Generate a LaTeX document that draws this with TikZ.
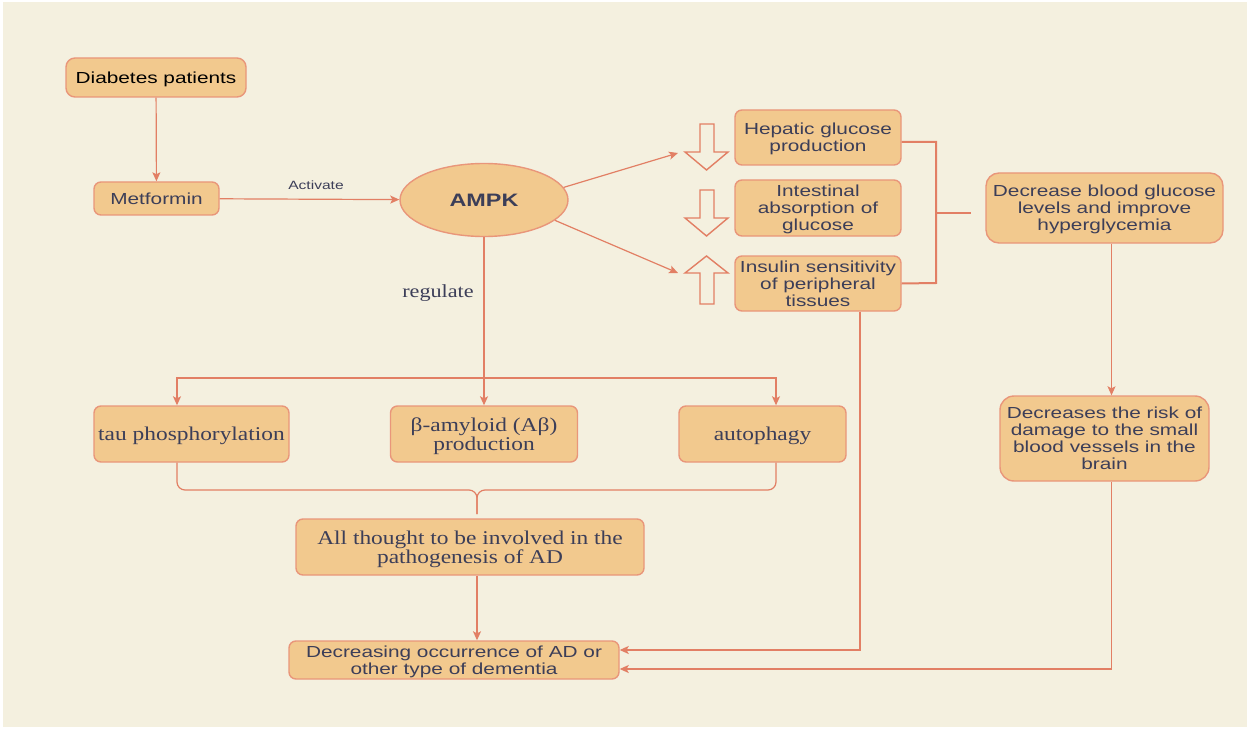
\documentclass[tikz,border=0pt]{standalone}
\usepackage{fontspec}
\usetikzlibrary{arrows.meta,shapes.geometric}
\setmainfont{Liberation Serif}[FakeStretch=1.2]
\newfontfamily\boxsans{Liberation Sans}[FakeStretch=1.3]
\definecolor{bg}{HTML}{F4F0DF}
\definecolor{boxfill}{HTML}{F2C98E}
\definecolor{boxline}{HTML}{E9967A}
\definecolor{arrowline}{HTML}{E27F64}
\definecolor{txt}{HTML}{3C3E58}

\begin{document}
\begin{tikzpicture}[x=1pt,y=-1pt,
    box/.style={draw=boxline,fill=boxfill,line width=1.4pt,rounded corners=7pt,inner sep=0pt,
      align=center,text=txt,font=\boxsans\fontsize{16}{17}\selectfont,text depth=-2pt},
    serifbox/.style={box,font=\fontsize{19.5}{19}\selectfont},
    link/.style={draw=arrowline,line width=1.2pt},
    arr/.style={link,-{Stealth[length=9pt,width=8pt,inset=2pt]}},
    bracket/.style={draw=arrowline,line width=2pt},
    hollow/.style={draw=arrowline,fill=bg,line width=1.4pt}]
  \useasboundingbox (0,0) rectangle (1250,730);
  \fill[white] (0,0) rectangle (1250,730);
  \fill[bg] (3,2) rectangle (1247,727);

  % left column
  \node[box,text=black,minimum width=180pt,minimum height=39pt,rounded corners=9pt] (diab) at (156,77.5) {Diabetes patients};
  \node[box,minimum width=125pt,minimum height=33pt] (met) at (156.5,198.5) {Metformin};
  \node[ellipse,draw=boxline,fill=boxfill,line width=1.4pt,minimum width=168pt,minimum height=73pt,inner sep=0pt,
    text=txt,font=\boxsans\bfseries\fontsize{18}{20}\selectfont] (ampk) at (484,200) {AMPK};
  \node[text=txt,font=\boxsans\fontsize{12}{14}\selectfont] (actlab) at (316,185) {Activate};
  \node[text=txt,font=\fontsize{18.5}{19}\selectfont] (reglab) at (438,293) {regulate};

  % glucose effects
  \node[box,minimum width=166pt,minimum height=55pt] (hep) at (818,137.5) {Hepatic glucose\\production};
  \node[box,minimum width=166pt,minimum height=56pt] (int) at (818,208) {Intestinal\\absorption of\\glucose};
  \node[box,minimum width=166pt,minimum height=55pt] (ins) at (818,283.5) {Insulin sensitivity\\of peripheral\\tissues};
  \node[box,minimum width=237pt,minimum height=70pt,rounded corners=13pt] (dbg) at (1104.5,208) {Decrease blood glucose\\levels and improve\\hyperglycemia};
  \node[box,minimum width=209pt,minimum height=85pt,rounded corners=14pt] (risk) at (1104.5,438.5) {Decreases the risk of\\damage to the small\\blood vessels in the\\brain};

  % AD pathways
  \node[serifbox,minimum width=195pt,minimum height=56pt] (tau) at (191.5,434) {tau phosphorylation};
  \node[serifbox,minimum width=187pt,minimum height=56pt] (abeta) at (484,434) {β-amyloid (Aβ)\\production};
  \node[serifbox,minimum width=167pt,minimum height=56pt] (auto) at (762.5,434) {autophagy};
  \node[serifbox,minimum width=348pt,minimum height=56pt] (patho) at (470,547) {All thought to be involved in the\\pathogenesis of AD};
  \node[box,minimum width=330pt,minimum height=38pt] (dec) at (454,660) {Decreasing occurrence of AD or\\other type of dementia};

  % hollow up/down arrows
  \foreach \t/\h/\p in {124/152/170, 190/218/236, 304/273/256}
    \draw[hollow] (700,\t) -- (714,\t) -- (714,\h) -- (728,\h) -- (706.5,\p) -- (685,\h) -- (700,\h) -- cycle;

  \coordinate (hepin) at (678,153);
  \coordinate (insin) at (678,273);
  \coordinate (split) at (484,378);
  \coordinate (braceknee) at (477,490);
  \coordinate (bracetip) at (477,514);
  \coordinate (brtop) at (936,142);
  \coordinate (brbot) at (936,283);
  \coordinate (brmid) at (936,213);
  \coordinate (brend) at (971,213);

  \draw[arr] (diab) -- (met);
  \draw[arr] (met) -- (ampk);
  \draw[arr] (ampk.9) -- (hepin);
  \draw[arr] (ampk.-16) -- (insin);
  \draw[arr] (ampk.south) -- (abeta.north);
  \draw[arr] (split) -| ([xshift=-14.5pt]tau.north);
  \draw[arr] (split) -| ([xshift=13.5pt]auto.north);
  \draw[link,rounded corners=8pt] ([xshift=-14.5pt]tau.south) |- (braceknee) -- (bracetip);
  \draw[link,rounded corners=8pt] ([xshift=13.5pt]auto.south) |- (braceknee) -- (bracetip);
  \draw[arr] ([xshift=7pt]patho.south) -- ([xshift=7pt]patho.south |- dec.north);

  \draw[bracket] ([yshift=-4.5pt]hep.east) -- (brtop) -- (brbot) -- (ins.east);
  \draw[bracket] (brmid) -- (brend);
  \draw[arr] ([xshift=7pt]dbg.south) -- ([xshift=7pt]risk.north);
  \draw[arr] ([xshift=42pt]ins.south) |- ([yshift=10pt]dec.east);
  \draw[arr] ([xshift=7pt]risk.south) |- ([yshift=-9pt]dec.east);
\end{tikzpicture}
\end{document}
